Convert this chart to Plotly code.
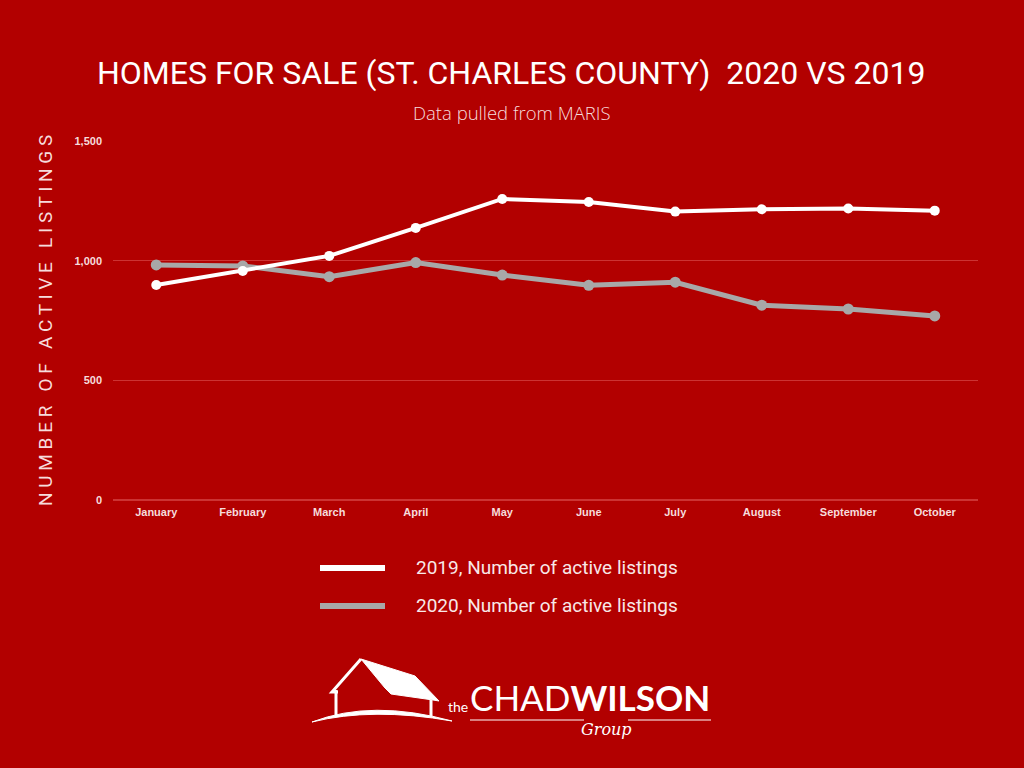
import plotly.graph_objects as go

months = ["January", "February", "March", "April", "May", "June", "July",
          "August", "September", "October"]
listings_2019 = [898, 957, 1020, 1137, 1258, 1245, 1205, 1215, 1218, 1209]
listings_2020 = [982, 978, 933, 992, 940, 897, 910, 814, 798, 769]
y_ticks = [0, 500, 1000, 1500]
series_names = ["2019, Number of active listings", "2020, Number of active listings"]

BG = "#B20000"
GRID = "#CC3333"
WHITE = "#FFFFFF"
GRAY = "#A8A8A8"
TXT = "#F6DCDC"
NARROW = "Roboto, sans-serif"

W, H = 1024, 768
L, R, T, B = 113, 46, 141, 268
PW, PH = W - L - R, H - T - B


def px(x):
    return (x - L) / PW


def py(y):
    return (H - B - y) / PH


fig = go.Figure()
fig.add_trace(go.Scatter(
    x=months, y=listings_2020, mode="lines+markers", name=series_names[1],
    line=dict(color=GRAY, width=5), marker=dict(color=GRAY, size=11),
    showlegend=False))
fig.add_trace(go.Scatter(
    x=months, y=listings_2019, mode="lines+markers", name=series_names[0],
    line=dict(color=WHITE, width=4), marker=dict(color=WHITE, size=10),
    showlegend=False))

shapes = []
annotations = []

# Title and subtitle
annotations.append(dict(
    text="HOMES FOR SALE (ST. CHARLES COUNTY)  2020 VS 2019",
    xref="paper", yref="paper", x=px(511), y=py(73), xanchor="center", yanchor="middle",
    showarrow=False, font=dict(family=NARROW, size=32, color=WHITE)))
annotations.append(dict(
    text="Data pulled from MARIS",
    xref="paper", yref="paper", x=px(512), y=py(112), xanchor="center", yanchor="middle",
    showarrow=False, font=dict(family="Open Sans, sans-serif", size=18.5, color=TXT,
                               weight=300)))

# Y-axis title with spaced letters
ytitle = "   ".join(" ".join(w) for w in "NUMBER OF ACTIVE LISTINGS".split())
annotations.append(dict(
    text=ytitle, xref="paper", yref="paper", x=px(45), y=py(321),
    xanchor="center", yanchor="middle", textangle=-90, showarrow=False,
    font=dict(family=NARROW, size=19, color=TXT)))

# Custom legend
for name, col, yy in [(series_names[0], WHITE, 568), (series_names[1], GRAY, 606)]:
    shapes.append(dict(type="line", xref="paper", yref="paper",
                       x0=px(320), x1=px(385), y0=py(yy), y1=py(yy),
                       line=dict(color=col, width=6)))
    annotations.append(dict(
        text=name, xref="paper", yref="paper", x=px(414), y=py(yy - 1),
        xanchor="left", yanchor="middle", showarrow=False,
        font=dict(family=NARROW, size=19, color="#F8E8E8")))


# Logo: house
def path(points, close=True):
    s = "M " + " L ".join(f"{px(a):.5f},{py(b):.5f}" for a, b in points)
    return s + (" Z" if close else "")


shapes.append(dict(type="path", xref="paper", yref="paper",
                   path=path([(361, 659), (415, 676), (439, 701), (433, 700),
                              (391, 694), (385, 688)]),
                   fillcolor=WHITE, line=dict(color=WHITE, width=1)))
shapes.append(dict(type="path", xref="paper", yref="paper",
                   path=path([(361, 659), (332, 692), (338, 692)], close=False),
                   line=dict(color=WHITE, width=3)))
shapes.append(dict(type="line", xref="paper", yref="paper",
                   x0=px(336), x1=px(336), y0=py(690), y1=py(716),
                   line=dict(color=WHITE, width=3)))
shapes.append(dict(type="line", xref="paper", yref="paper",
                   x0=px(431), x1=px(431), y0=py(700), y1=py(717),
                   line=dict(color=WHITE, width=3)))
shapes.append(dict(type="path", xref="paper", yref="paper",
                   path=(f"M {px(312):.5f},{py(722):.5f} "
                         f"Q {px(372):.5f},{py(699):.5f} {px(452):.5f},{py(721):.5f} "
                         f"Q {px(372):.5f},{py(707):.5f} {px(312):.5f},{py(722):.5f} Z"),
                   fillcolor=WHITE, line=dict(color=WHITE, width=1)))

# Logo: text
annotations.append(dict(text="the", xref="paper", yref="paper", x=px(446), y=py(706),
                        xanchor="left", yanchor="middle", showarrow=False,
                        font=dict(family="Lato, sans-serif", size=14, color=WHITE)))
annotations.append(dict(text="CHAD<b>WILSON</b>", xref="paper", yref="paper",
                        x=px(468), y=py(697), xanchor="left", yanchor="middle",
                        showarrow=False,
                        font=dict(family="Lato, sans-serif", size=35, color=WHITE)))
annotations.append(dict(text="<i>Group</i>", xref="paper", yref="paper", x=px(606), y=py(729),
                        xanchor="center", yanchor="middle", showarrow=False,
                        font=dict(family="DejaVu Serif, serif", size=16, color=WHITE)))
shapes.append(dict(type="line", xref="paper", yref="paper",
                   x0=px(470), x1=px(584), y0=py(720), y1=py(720),
                   line=dict(color=WHITE, width=1)))
shapes.append(dict(type="line", xref="paper", yref="paper",
                   x0=px(628), x1=px(711), y0=py(720), y1=py(720),
                   line=dict(color=WHITE, width=1)))

fig.update_layout(
    width=W, height=H,
    margin=dict(l=L, r=R, t=T, b=B, pad=0),
    paper_bgcolor=BG, plot_bgcolor=BG,
    showlegend=False,
    shapes=shapes, annotations=annotations,
    xaxis=dict(type="category", range=[-0.5, 9.5], showgrid=False, zeroline=False,
               showline=False, ticks="", ticklabelstandoff=4,
               tickfont=dict(family="Liberation Sans, Arial, sans-serif", size=11,
                             color=TXT, weight="bold")),
    yaxis=dict(range=[0, 1500], tickvals=y_ticks, tickformat=",", showgrid=True,
               gridcolor=GRID, gridwidth=1, zeroline=True, zerolinecolor=GRID,
               zerolinewidth=2, showline=False, ticks="", ticklabelstandoff=10,
               tickfont=dict(family="Liberation Sans, Arial, sans-serif", size=11,
                             color=TXT, weight="bold")),
)

fig.write_html("out.html", config={"displayModeBar": False},
               post_script="document.body.style.margin='0';"
                           "document.body.style.background='" + BG + "';")
